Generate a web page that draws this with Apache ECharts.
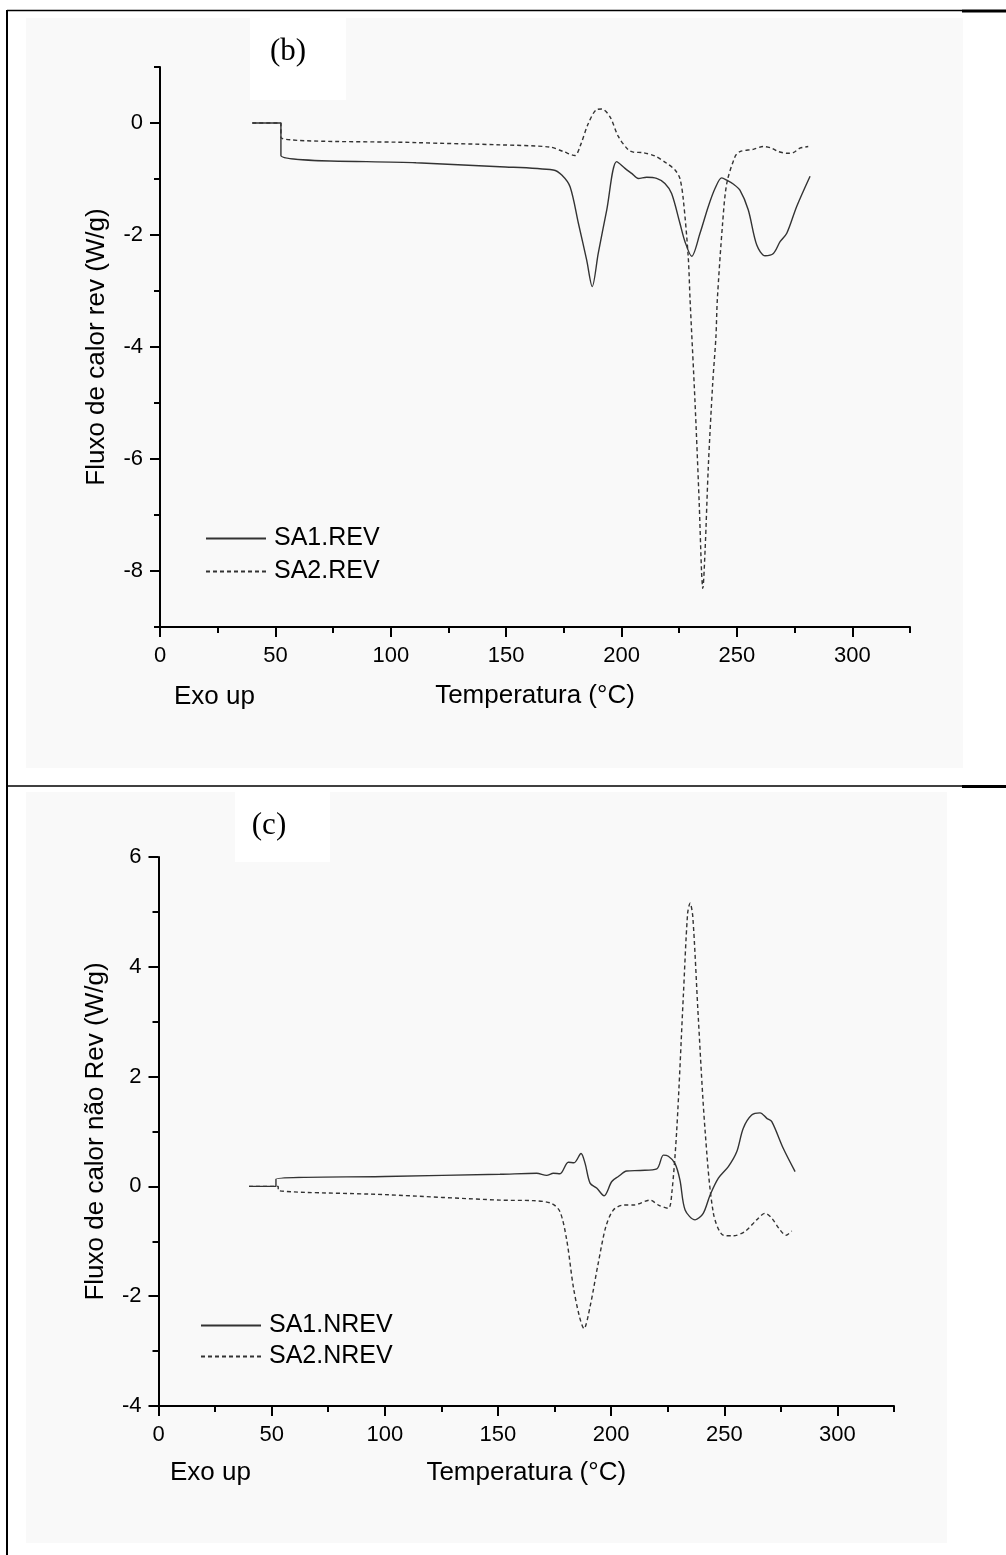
<!DOCTYPE html>
<html>
<head>
<meta charset="utf-8">
<title>Fluxo de calor rev / não Rev</title>
<script src="https://cdn.jsdelivr.net/npm/echarts@6/dist/echarts.min.js"></script>
<style>
  html, body { margin: 0; padding: 0; background: #ffffff; }
  #chart { width: 1006px; height: 1555px; }
</style>
</head>
<body>
<div id="chart"></div>
<script>
// ---- Panel (b): reversing heat flow (W/g) vs temperature (°C) ----
const revSA1T = [40, 52.4, 52.4, 111, 147.3, 170.4, 174.1, 177.7, 181.3, 184.9, 187.3, 189.9, 193.6, 197.9, 201.5, 204.4, 207.3, 210.9, 215.2, 218.8, 221.7, 225.3, 227.5, 230.4, 234.0, 237.6, 240.5, 243.4, 245.6, 248.4, 251.3, 254.9, 258.6, 262.2, 265.8, 268.7, 271.6, 275.9, 281.7];
const revSA1V = [0, 0, -0.58, -0.71, -0.78, -0.84, -0.93, -1.14, -1.79, -2.45, -2.92, -2.33, -1.55, -0.69, -0.81, -0.90, -0.99, -0.97, -0.99, -1.08, -1.26, -1.79, -2.12, -2.38, -1.97, -1.49, -1.17, -0.98, -1.02, -1.09, -1.20, -1.55, -2.18, -2.37, -2.33, -2.12, -1.97, -1.49, -0.95];

const revSA2T = [40, 52.4, 52.4, 111, 147.3, 169, 174.8, 179.8, 182, 185.6, 189.2, 191.4, 195, 198.6, 202.9, 205.1, 209.4, 214.5, 219.6, 223.2, 225.3, 226.8, 228.9, 229.7, 231.8, 233.6, 234.7, 235.2, 236.2, 237.6, 239.5, 240.9, 241.5, 243.8, 245.6, 249.2, 251.3, 257.1, 261.4, 265.1, 267.9, 271.6, 274.4, 277.3, 280.9];
const revSA2V = [0, 0, -0.26, -0.35, -0.39, -0.43, -0.51, -0.58, -0.42, -0.01, 0.24, 0.25, 0.11, -0.24, -0.48, -0.52, -0.53, -0.59, -0.72, -0.84, -0.99, -1.38, -2.39, -3.16, -4.95, -6.73, -8.04, -8.31, -7.63, -6.14, -4.65, -3.82, -3.16, -1.79, -1.08, -0.60, -0.51, -0.47, -0.42, -0.45, -0.51, -0.54, -0.53, -0.45, -0.42];

// ---- Panel (c): non-reversing heat flow (W/g) vs temperature (°C) ----
const nrevSA1T = [40, 51.9, 51.9, 100, 150.9, 167.1, 171.5, 174.5, 177.4, 181.1, 183.6, 186.7, 188.5, 190.7, 193.6, 196.9, 200.3, 203.2, 206.9, 212.8, 220.2, 223.1, 225.3, 228.2, 230.4, 232.7, 237.1, 240.7, 243.7, 247.4, 251.8, 255.5, 258.4, 262.1, 265.8, 268.8, 271, 276.1, 281.3];
const nrevSA1V = [0, 0, 0.13, 0.18, 0.22, 0.24, 0.20, 0.24, 0.23, 0.44, 0.43, 0.60, 0.42, 0.06, -0.03, -0.17, 0.09, 0.18, 0.28, 0.29, 0.32, 0.57, 0.55, 0.42, 0.12, -0.43, -0.61, -0.49, -0.16, 0.15, 0.36, 0.63, 1.06, 1.30, 1.34, 1.24, 1.18, 0.69, 0.27];

const nrevSA2T = [40, 52.9, 52.9, 100, 150.9, 165.6, 173.7, 177.4, 180.4, 183.3, 186, 188, 190.7, 194.3, 197.7, 201, 205.4, 209.8, 217.2, 220.9, 225.3, 226.8, 229, 231.9, 233.8, 234.9, 236.1, 238.5, 241.5, 245.2, 249.6, 254, 259.2, 264.3, 268, 271, 274.6, 277.3, 279.8];
const nrevSA2V = [0, 0, -0.07, -0.15, -0.25, -0.26, -0.31, -0.46, -0.98, -1.83, -2.37, -2.59, -2.19, -1.40, -0.73, -0.43, -0.34, -0.34, -0.25, -0.34, -0.40, -0.13, 1.03, 3.46, 4.97, 5.16, 4.91, 3.09, 1.03, -0.49, -0.89, -0.90, -0.82, -0.61, -0.49, -0.58, -0.79, -0.89, -0.81];

// ---- Tick positions ----
const xMajorTicks = [0, 50, 100, 150, 200, 250, 300];
const xMinorTicks = [25, 75, 125, 175, 225, 275, 325];
const yMajorTicksB = [-8, -6, -4, -2, 0];
const yMinorTicksB = [-9, -7, -5, -3, -1, 1];
const yMajorTicksC = [-4, -2, 0, 2, 4, 6];
const yMinorTicksC = [-3, -1, 1, 3, 5];

const seriesNamesB = ['SA1.REV', 'SA2.REV'];
const seriesNamesC = ['SA1.NREV', 'SA2.NREV'];

const zip = (xs, ys) => xs.map((x, i) => [x, ys[i]]);

const FONT = '"Liberation Sans", Arial, sans-serif';
const SERIF = '"Liberation Serif", "Times New Roman", serif';
const INK = '#000';
const CURVE = '#333';

function majorX(gridIndex, name, gap) {
  return {
    type: 'value', gridIndex, position: 'bottom', min: 0, max: 325,
    name, nameLocation: 'middle', nameGap: gap,
    nameTextStyle: { fontFamily: FONT, fontSize: 26, color: INK },
    axisLine: { show: true, onZero: false, lineStyle: { color: INK, width: 2 } },
    axisTick: { show: true, customValues: xMajorTicks, length: 10, lineStyle: { color: INK, width: 2 } },
    axisLabel: { show: true, customValues: xMajorTicks, margin: 18, fontFamily: FONT, fontSize: 22, color: INK },
    splitLine: { show: false }
  };
}
function minorX(gridIndex) {
  return {
    type: 'value', gridIndex, position: 'bottom', min: 0, max: 325,
    axisLine: { show: false, onZero: false },
    axisTick: { show: true, customValues: xMinorTicks, length: 6, lineStyle: { color: INK, width: 2 } },
    axisLabel: { show: false },
    splitLine: { show: false }
  };
}
function majorY(gridIndex, min, max, ticks, name) {
  return {
    type: 'value', gridIndex, position: 'left', min, max,
    name, nameLocation: 'middle', nameGap: 50,
    nameTextStyle: { fontFamily: FONT, fontSize: 26, color: INK },
    axisLine: { show: true, onZero: false, lineStyle: { color: INK, width: 2 } },
    axisTick: { show: true, customValues: ticks, length: 10, lineStyle: { color: INK, width: 2 } },
    axisLabel: { show: true, customValues: ticks, margin: 17, fontFamily: FONT, fontSize: 22, color: INK },
    splitLine: { show: false }
  };
}
function minorY(gridIndex, min, max, ticks) {
  return {
    type: 'value', gridIndex, position: 'left', min, max,
    axisLine: { show: false, onZero: false },
    axisTick: { show: true, customValues: ticks, length: 6, lineStyle: { color: INK, width: 2 } },
    axisLabel: { show: false },
    splitLine: { show: false }
  };
}
function curve(name, data, axisIdx, dashed) {
  return {
    type: 'line', name, data, xAxisIndex: axisIdx, yAxisIndex: axisIdx,
    symbol: 'none', smooth: 0.3, silent: true,
    lineStyle: { color: CURVE, width: 1.4, type: dashed ? [4, 3] : 'solid' },
    itemStyle: { color: CURVE }
  };
}
// legend rows show only the line sample (no marker)
function legendBlock(names, left, top, gap) {
  return {
    data: names, orient: 'vertical', left, top,
    itemWidth: 60, itemHeight: 24, itemGap: gap, padding: 0,
    itemStyle: { color: 'rgba(0,0,0,0)', borderWidth: 0, opacity: 0 },
    textStyle: { fontFamily: FONT, fontSize: 25, color: INK, padding: [0, 0, 0, 3] },
    selectedMode: false
  };
}

const chart = echarts.init(document.getElementById('chart'), null, { renderer: 'canvas' });

chart.setOption({
  animation: false,
  backgroundColor: '#ffffff',
  grid: [
    { left: 160, top: 67, width: 750, height: 560 },
    { left: 158.5, top: 857, width: 735.5, height: 549 }
  ],
  xAxis: [
    majorX(0, 'Temperatura (°C)', 56),
    minorX(0),
    majorX(1, 'Temperatura (°C)', 54),
    minorX(1)
  ],
  yAxis: [
    majorY(0, -9, 1, yMajorTicksB, 'Fluxo de calor rev (W/g)'),
    minorY(0, -9, 1, yMinorTicksB),
    majorY(1, -4, 6, yMajorTicksC, 'Fluxo de calor não Rev (W/g)'),
    minorY(1, -4, 6, yMinorTicksC)
  ],
  legend: [
    legendBlock(seriesNamesB, 205, 526, 8),
    legendBlock(seriesNamesC, 200, 1313, 6)
  ],
  series: [
    curve(seriesNamesB[0], zip(revSA1T, revSA1V), 0, false),
    curve(seriesNamesB[1], zip(revSA2T, revSA2V), 0, true),
    curve(seriesNamesC[0], zip(nrevSA1T, nrevSA1V), 2, false),
    curve(seriesNamesC[1], zip(nrevSA2T, nrevSA2V), 2, true)
  ],
  graphic: [
    // panel backgrounds
    { type: 'rect', z: -100, shape: { x: 26, y: 18, width: 937, height: 750 }, style: { fill: '#f9f9f9' } },
    { type: 'rect', z: -99, shape: { x: 250, y: 18, width: 96, height: 82 }, style: { fill: '#ffffff' } },
    { type: 'rect', z: -100, shape: { x: 26, y: 792, width: 921, height: 751 }, style: { fill: '#f9f9f9' } },
    { type: 'rect', z: -99, shape: { x: 235, y: 792, width: 95, height: 70 }, style: { fill: '#ffffff' } },
    // table frame
    { type: 'line', shape: { x1: 7, y1: 10, x2: 7, y2: 1555 }, style: { stroke: '#000', lineWidth: 2 } },
    { type: 'line', shape: { x1: 7, y1: 10.5, x2: 962, y2: 10.5 }, style: { stroke: '#000', lineWidth: 1.5 } },
    { type: 'line', shape: { x1: 962, y1: 11, x2: 1006, y2: 11 }, style: { stroke: '#000', lineWidth: 3 } },
    { type: 'line', shape: { x1: 7, y1: 786, x2: 962, y2: 786 }, style: { stroke: '#000', lineWidth: 1.5 } },
    { type: 'line', shape: { x1: 962, y1: 786.5, x2: 1006, y2: 786.5 }, style: { stroke: '#000', lineWidth: 3 } },
    // panel tags
    { type: 'text', x: 288, y: 52, style: { text: '(b)', font: '31px ' + SERIF, fill: '#000', align: 'center', verticalAlign: 'middle' } },
    { type: 'text', x: 269, y: 826, style: { text: '(c)', font: '31px ' + SERIF, fill: '#000', align: 'center', verticalAlign: 'middle' } },
    // exotherm direction notes
    { type: 'text', x: 174, y: 697, style: { text: 'Exo up', font: '26px ' + FONT, fill: '#000', align: 'left', verticalAlign: 'middle' } },
    { type: 'text', x: 170, y: 1473, style: { text: 'Exo up', font: '26px ' + FONT, fill: '#000', align: 'left', verticalAlign: 'middle' } }
  ]
});
</script>
</body>
</html>
